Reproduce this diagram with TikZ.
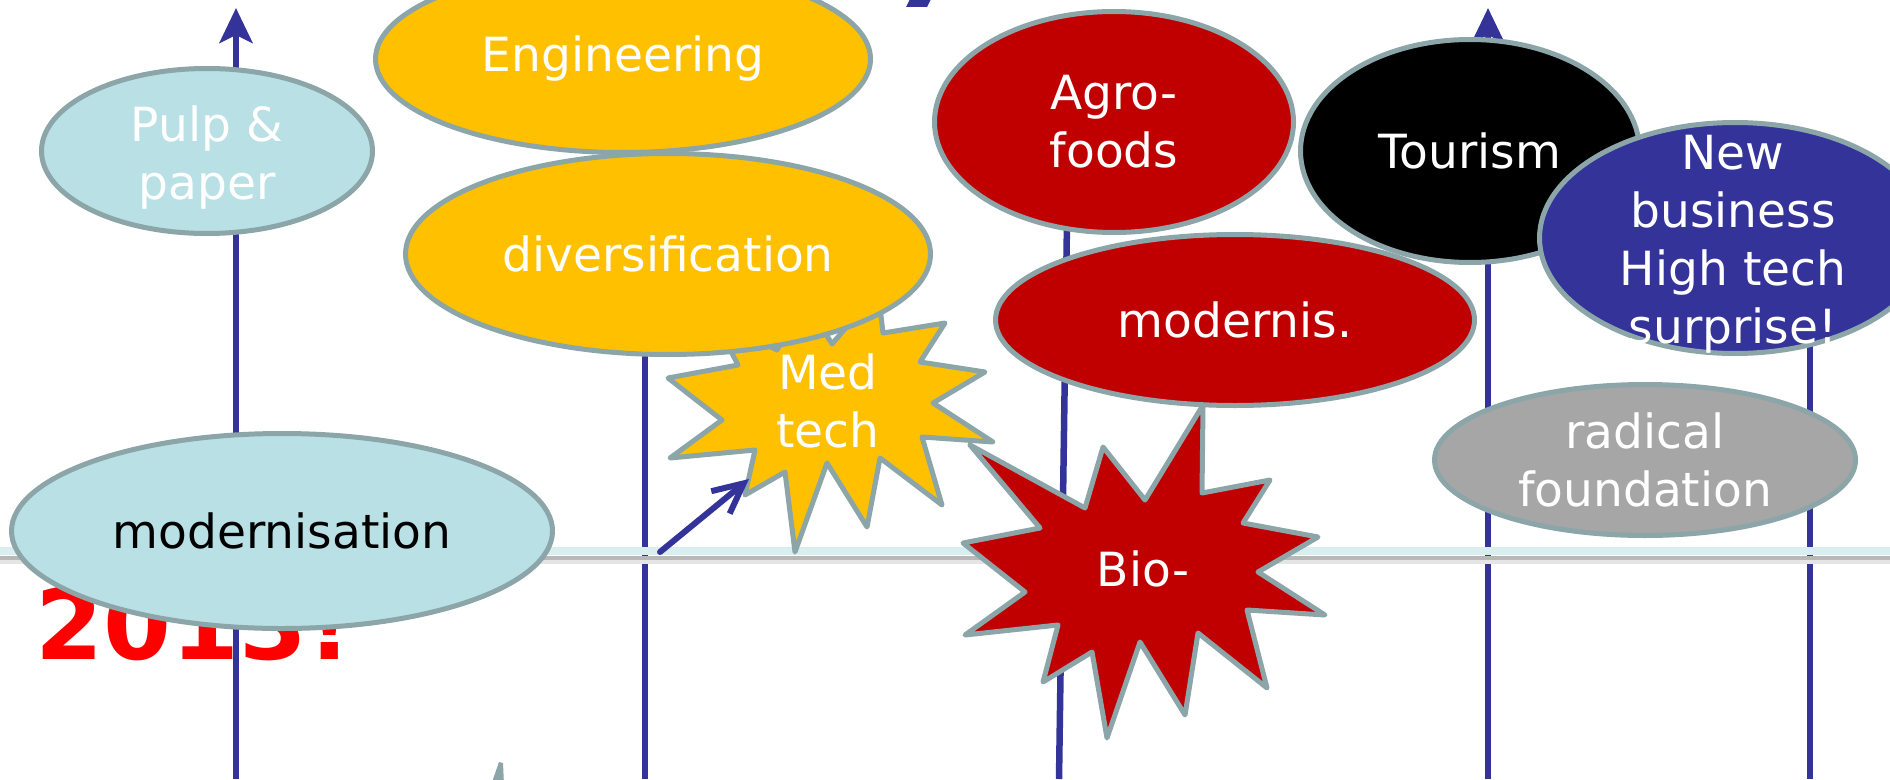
\documentclass[tikz,border=0pt]{standalone}
\usepackage{fontspec}
\setmainfont{DejaVu Sans}
\usetikzlibrary{shapes.geometric, arrows.meta}
\definecolor{navy}{RGB}{51,51,153}
\definecolor{rim}{RGB}{139,165,168}
\definecolor{pale}{RGB}{185,224,228}
\definecolor{gold}{RGB}{255,192,0}
\definecolor{crimson}{RGB}{192,0,0}
\definecolor{stone}{RGB}{166,166,166}
\definecolor{band}{RGB}{218,238,240}

\begin{document}
\begin{tikzpicture}[x=0.1mm, y=-0.1mm,
  bubble/.style={ellipse, draw=rim, line width=0.5mm, inner sep=0pt, text=white, align=center, font=\fontsize{13.4}{16.5}\selectfont},
  word/.style={text=white, align=center, inner sep=0pt, font=\fontsize{13.4}{16.5}\selectfont},
  burst/.style={draw=rim, line width=0.5mm, line join=round},
  timeline/.style={navy, line width=0.65mm},
  uparrow/.style={-{Stealth[length=3.5mm, width=3.3mm, inset=0.8mm]}}]
\useasboundingbox (0,0) rectangle (1890,779);
\clip (0,0) rectangle (1890,779);
      \node[anchor=west, inner sep=0pt, text=red, font=\bfseries\fontsize{27.8}{30}\selectfont] (year) at (35,624) {2013!};
      \draw[timeline, uparrow] (236,779) -- (236,8);
      \draw[timeline, uparrow] (1488,779) -- (1488,8);
      \foreach \xa/\xb/\ya in {645/645/100, 1059/1068/150, 1810/1810/200}
      \draw[timeline] (\xa,779) -- (\xb,\ya);
      \draw[black!10, line width=0.4mm] (0,562) -- (1890,562);
      \draw[black!28, line width=0.4mm] (0,558) -- (1890,558);
      \draw[band, line width=0.8mm] (0,551) -- (1890,551);
      \fill[navy] (906,7) -- (927,7) -- (933,-5) -- (912,-5) -- cycle;
      \fill[rim] (491,785) -- (499,762) -- (503,763) -- (504,785) -- cycle;
      \node[bubble, fill=pale, minimum width=33.1mm, minimum height=16.5mm] (pulp) at (207,151) {};
      \node[word] (pulptext) at (207,158) {Pulp \&\\paper};
      \node[bubble, fill=pale, text=black, minimum width=54.1mm, minimum height=19.5mm] (modlow) at (282,531) {modernisation};
      \filldraw[burst, fill=gold] (878,290) -- (883,333) -- (945,323) -- (920,362) -- (985,372) -- (933,403)
        -- (993,442) -- (922,437) -- (942,505) -- (880,458) -- (867,527) -- (827,463) -- (795,552)
        -- (785,472) -- (745,495) -- (755,450) -- (670,458) -- (722,420) -- (668,378) -- (738,365)
        -- (715,320) -- (777,350) -- (805,300) -- (832,344) -- cycle;
      \node[word] (medtech) at (828,401) {Med\\tech};
      \node[bubble, fill=gold, minimum width=49.5mm, minimum height=18.7mm] (engin) at (623,59) {Engineering};
      \node[bubble, fill=gold, minimum width=52.5mm, minimum height=20.1mm] (divers) at (668,254) {diversification};
      \filldraw[burst, fill=crimson] (1203,405) -- (1202,493) -- (1270,480) -- (1243,523) -- (1318,537) -- (1258,572)
        -- (1325,615) -- (1247,610) -- (1267,688) -- (1198,633) -- (1185,715) -- (1140,642) -- (1107,738)
        -- (1092,652) -- (1043,682) -- (1058,625) -- (965,635) -- (1025,592) -- (963,543) -- (1040,528)
        -- (970,445) -- (1085,508) -- (1103,447) -- (1145,500) -- cycle;
      \node[word] (bio) at (1143,569) {Bio-};
      \node[bubble, fill=crimson, minimum width=35.9mm, minimum height=22.1mm] (agro) at (1114,122) {Agro-\\foods};
      \node[bubble, fill=black, minimum width=33.9mm, minimum height=22.3mm] (tourism) at (1470,151) {Tourism};
      \node[bubble, fill=crimson, minimum width=47.9mm, minimum height=17.1mm] (modern) at (1235,320) {modernis.};
      \node[bubble, fill=navy, minimum width=39.1mm, minimum height=23.1mm] (newbiz) at (1735,238) {};
      \node[word] (newbiztext) at (1733,244) {New\\business\\High tech\\surprise!};
      \node[bubble, fill=stone, minimum width=42.1mm, minimum height=15.1mm] (radical) at (1645,460) {radical\\foundation};
      \coordinate (armfoot) at (660,552);
      \coordinate (armtip) at (749,479);
      \draw[navy, line width=0.6mm, line cap=round, -{Straight Barb[length=3mm, width=2.9mm]}] (armfoot) -- (armtip);
\end{tikzpicture}
\end{document}
